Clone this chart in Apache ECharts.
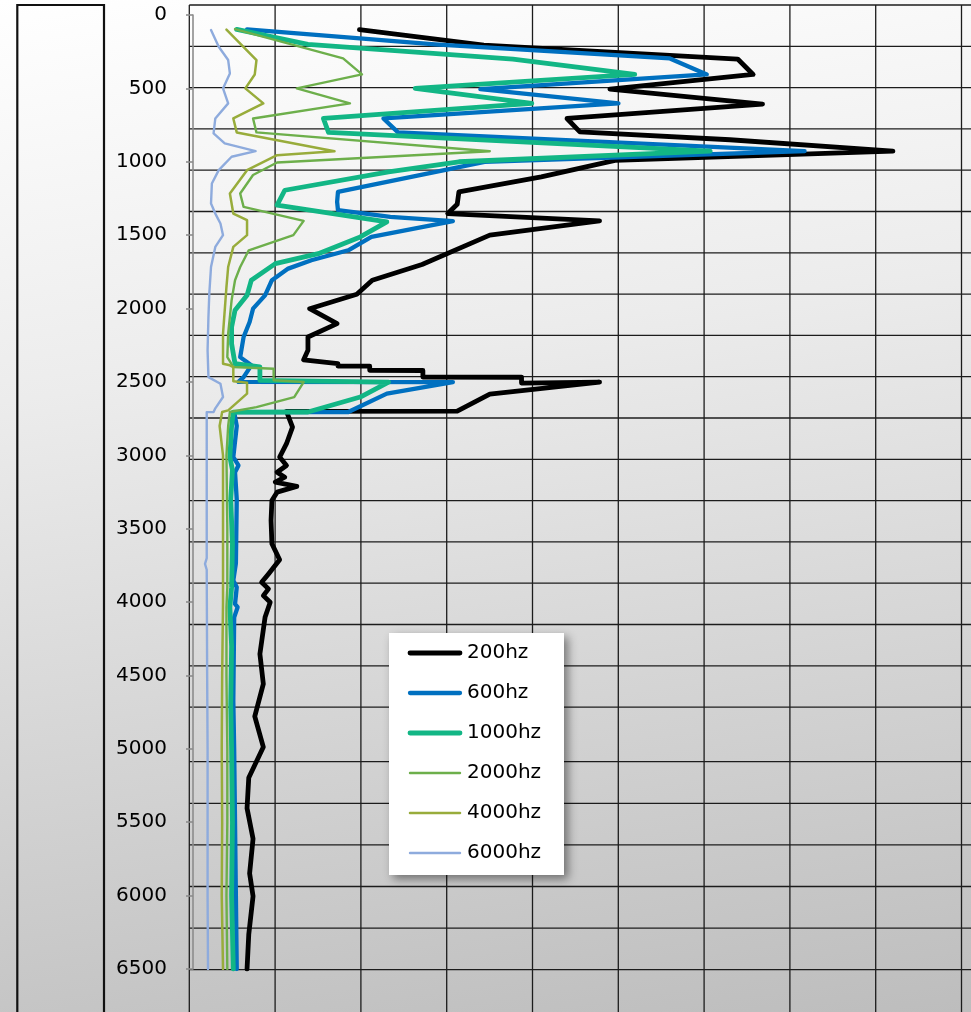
<!DOCTYPE html>
<html>
<head>
<meta charset="utf-8">
<script src="https://cdn.jsdelivr.net/npm/echarts@6/dist/echarts.min.js"></script>
<style>
  html, body { margin: 0; padding: 0; }
  body {
    width: 971px; height: 1012px; overflow: hidden;
    background: linear-gradient(172deg, #ffffff 0%, #ececec 35%, #d6d6d6 65%, #bdbdbd 100%);
  }
  #chart { width: 971px; height: 1012px; }
</style>
</head>
<body>
<div id="chart"></div>
<script>
// Depth (m) and relative amplitude for each frequency band
const depth200 = [100, 205, 300, 405, 505, 607, 705, 796, 850, 928, 990, 1103, 1205, 1290, 1353, 1403, 1500, 1700, 1807, 1903, 2001, 2103, 2194, 2285, 2349, 2376, 2392, 2393, 2421, 2422, 2467, 2468, 2508, 2501, 2583, 2699, 2700, 2808, 2921, 3012, 3069, 3115, 3149, 3183, 3212, 3251, 3308, 3444, 3603, 3712, 3808, 3865, 3910, 3956, 4001, 4104, 4354, 4558, 4779, 4988, 5197, 5405, 5613, 5849, 6004, 6265, 6500];
const amp200 = [19.4, 33.9, 63.5, 65.3, 48.6, 66.4, 43.6, 45.1, 62.6, 81.6, 49.2, 40.6, 31.0, 30.8, 29.7, 47.4, 34.6, 26.7, 20.9, 19.1, 13.6, 16.8, 13.4, 13.4, 12.9, 16.9, 16.9, 20.6, 20.6, 26.8, 26.8, 38.3, 38.3, 47.4, 34.6, 30.8, 10.9, 11.6, 10.9, 10.1, 10.9, 9.8, 10.7, 9.6, 12.1, 9.8, 9.2, 9.1, 9.2, 10.1, 8.8, 8.0, 8.8, 8.2, 9.0, 8.4, 7.8, 8.2, 7.2, 8.2, 6.5, 6.3, 7.0, 6.6, 7.0, 6.5, 6.3];

const depth600 = [98, 200, 296, 405, 505, 602, 705, 800, 928, 1000, 1205, 1273, 1330, 1376, 1405, 1512, 1603, 1671, 1728, 1807, 1910, 2001, 2092, 2194, 2331, 2387, 2467, 2500, 2501, 2580, 2705, 2706, 2800, 3012, 3069, 3115, 3300, 3737, 3853, 3899, 4013, 4035, 4104, 4672, 5000, 5500, 6000, 6500];
const amp600 = [6.3, 28.2, 55.6, 59.9, 33.5, 49.6, 22.2, 23.9, 71.3, 34.0, 16.9, 16.8, 16.9, 23.0, 30.3, 20.8, 18.1, 13.8, 11.1, 9.2, 8.4, 7.0, 6.6, 5.9, 5.5, 6.8, 5.9, 5.3, 30.3, 22.6, 18.1, 4.8, 5.1, 4.7, 5.3, 4.9, 5.1, 5.0, 4.7, 5.1, 4.9, 5.2, 4.8, 4.7, 4.8, 4.9, 5.0, 5.1];

const depth1000 = [98, 200, 300, 405, 500, 602, 705, 800, 928, 1000, 1069, 1194, 1296, 1410, 1512, 1626, 1694, 1807, 1910, 2012, 2126, 2240, 2376, 2398, 2490, 2501, 2603, 2705, 2706, 2800, 3012, 3100, 3300, 3600, 3900, 4035, 4300, 4700, 5000, 5500, 6000, 6500];
const amp1000 = [5.1, 13.4, 37.3, 51.5, 25.9, 39.5, 15.2, 15.8, 60.3, 31.0, 22.8, 10.7, 9.8, 22.6, 19.5, 14.6, 9.6, 6.8, 6.3, 4.9, 4.5, 4.5, 4.9, 7.8, 7.8, 22.8, 19.5, 13.4, 4.7, 4.5, 4.3, 4.6, 4.4, 4.6, 4.5, 4.3, 4.5, 4.4, 4.5, 4.6, 4.5, 4.7];

const depth2000 = [96, 296, 405, 500, 602, 705, 800, 928, 1005, 1090, 1216, 1307, 1403, 1500, 1603, 1717, 1807, 1944, 2171, 2331, 2398, 2410, 2489, 2501, 2603, 2672, 2705, 2800, 3000, 3500, 3900, 4035, 4500, 5000, 5500, 6000, 6500];
const amp2000 = [4.9, 17.5, 19.7, 12.1, 18.3, 7.0, 7.4, 34.6, 9.8, 7.0, 5.5, 5.9, 12.9, 11.7, 6.5, 5.5, 4.9, 4.5, 4.1, 4.0, 4.7, 9.4, 9.4, 12.9, 11.8, 7.4, 4.3, 4.1, 3.9, 4.0, 4.0, 3.9, 3.9, 4.0, 4.0, 3.9, 4.0];

const depth4000 = [100, 307, 405, 500, 602, 705, 800, 928, 955, 1057, 1216, 1353, 1398, 1500, 1580, 1717, 1853, 2171, 2376, 2387, 2400, 2495, 2505, 2580, 2694, 2705, 2800, 3000, 3200, 3500, 4000, 4500, 5000, 5500, 6000, 6500];
const amp4000 = [3.9, 7.4, 7.2, 6.1, 8.2, 4.7, 5.1, 16.5, 9.8, 6.3, 4.3, 4.7, 6.3, 6.3, 4.7, 4.1, 3.9, 3.5, 3.5, 4.3, 4.7, 4.7, 6.3, 6.3, 4.1, 3.4, 3.1, 3.5, 3.5, 3.5, 3.5, 3.4, 3.35, 3.4, 3.35, 3.5];

const depth6000 = [102, 216, 307, 398, 500, 602, 705, 807, 875, 928, 966, 1057, 1148, 1284, 1353, 1421, 1500, 1580, 1717, 1898, 2058, 2285, 2467, 2512, 2603, 2680, 2705, 2706, 3000, 3700, 3740, 3780, 4500, 5000, 5500, 6000, 6500];
const amp6000 = [2.1, 3.0, 4.1, 4.3, 3.5, 4.1, 2.6, 2.4, 3.7, 7.3, 4.5, 3.0, 2.2, 2.1, 2.6, 3.2, 3.5, 2.6, 2.1, 1.9, 1.8, 1.7, 1.8, 3.2, 3.5, 2.6, 2.4, 1.6, 1.6, 1.6, 1.4, 1.6, 1.65, 1.7, 1.7, 1.7, 1.75];

const seriesNames = ['200hz', '600hz', '1000hz', '2000hz', '4000hz', '6000hz'];
const depthTicks = { min: 0, max: 6500, step: 500 };

// Styling per band
const bandStyles = [
  { color: '#000000', width: 4.8 },
  { color: '#0070c0', width: 4.3 },
  { color: '#12b685', width: 4.8 },
  { color: '#6daf4b', width: 2.4 },
  { color: '#98ac3b', width: 2.5 },
  { color: '#8eabdd', width: 2.4 }
];

const bands = [
  [depth200, amp200], [depth600, amp600], [depth1000, amp1000],
  [depth2000, amp2000], [depth4000, amp4000], [depth6000, amp6000]
];

// Spreadsheet cell borders drawn behind the plot
const cellLeft = 189.3, cellColW = 85.8, cellCols = 9, cellTop = 5;
const rowHeights = [].concat(Array(17).fill(41.3), [54.6], Array(5).fill(41.6));
const decorations = [];
const bottomEdge = 1012;
for (let k = 0; k <= cellCols; k++) {
  const x = cellLeft + k * cellColW;
  decorations.push({ type: 'line', silent: true, z: 0,
    shape: { x1: x, y1: cellTop, x2: x, y2: bottomEdge },
    style: { stroke: '#1c1c1c', lineWidth: 1.3 } });
}
let yy = cellTop;
for (let r = 0; r <= rowHeights.length; r++) {
  decorations.push({ type: 'line', silent: true, z: 0,
    shape: { x1: cellLeft, y1: yy, x2: 971, y2: yy },
    style: { stroke: '#1c1c1c', lineWidth: 1.3 } });
  if (r < rowHeights.length) yy += rowHeights[r];
}
// Framed cell on the left
decorations.push({ type: 'rect', silent: true, z: 0,
  shape: { x: 17.3, y: 5, width: 86.7, height: 1100 },
  style: { stroke: '#111', lineWidth: 2.2, fill: 'transparent' } });

// Legend box: white panel with a drop shadow, one line sample + label per band
const legendBox = { x: 389, y: 633, w: 175, h: 242, padTop: 20, rowGap: 40, sampleX: 19, sampleW: 54, textX: 78 };
const legendChildren = [{
  type: 'rect',
  shape: { x: 0, y: 0, width: legendBox.w, height: legendBox.h },
  style: { fill: '#ffffff', shadowBlur: 9, shadowOffsetX: 4, shadowOffsetY: 4, shadowColor: 'rgba(0,0,0,0.45)' }
}];
seriesNames.forEach((name, i) => {
  const cy = legendBox.padTop + i * legendBox.rowGap;
  legendChildren.push({
    type: 'line',
    shape: { x1: legendBox.sampleX + 2, y1: cy, x2: legendBox.sampleX + legendBox.sampleW - 2, y2: cy },
    style: { stroke: bandStyles[i].color, lineWidth: bandStyles[i].width, lineCap: 'round' }
  });
  legendChildren.push({
    type: 'text',
    x: legendBox.textX, y: cy,
    style: { text: name, fill: '#000', font: '20px "DejaVu Sans"', textVerticalAlign: 'middle', verticalAlign: 'middle' }
  });
});
decorations.push({ type: 'group', x: legendBox.x, y: legendBox.y, z: 20, silent: true, children: legendChildren });

const chart = echarts.init(document.getElementById('chart'), null, { renderer: 'canvas' });

const series = bands.map(([d, a], i) => ({
  name: seriesNames[i],
  type: 'line',
  data: d.map((dep, j) => [a[j], dep]),
  symbol: 'none',
  showSymbol: false,
  smooth: false,
  clip: true,
  z: 3 + i,
  lineStyle: { color: bandStyles[i].color, width: bandStyles[i].width, cap: 'round', join: 'round' },
  itemStyle: { color: bandStyles[i].color },
  emphasis: { disabled: true }
}));

chart.setOption({
  animation: false,
  backgroundColor: 'transparent',
  graphic: decorations,
  grid: { left: 193, top: 15, width: 772, height: 954, containLabel: false },
  xAxis: { type: 'value', min: 0, max: 90, show: false },
  yAxis: {
    type: 'value', inverse: true,
    min: depthTicks.min, max: depthTicks.max, interval: depthTicks.step,
    axisLine: { show: true, lineStyle: { color: '#8c8c8c', width: 1.6 } },
    axisTick: { show: true, inside: false, length: 7, lineStyle: { color: '#8c8c8c', width: 1.6 } },
    axisLabel: { color: '#000', fontSize: 20, fontFamily: 'DejaVu Sans', margin: 26, formatter: v => String(v) },
    splitLine: { show: false }
  },
  series: series
});
</script>
</body>
</html>
